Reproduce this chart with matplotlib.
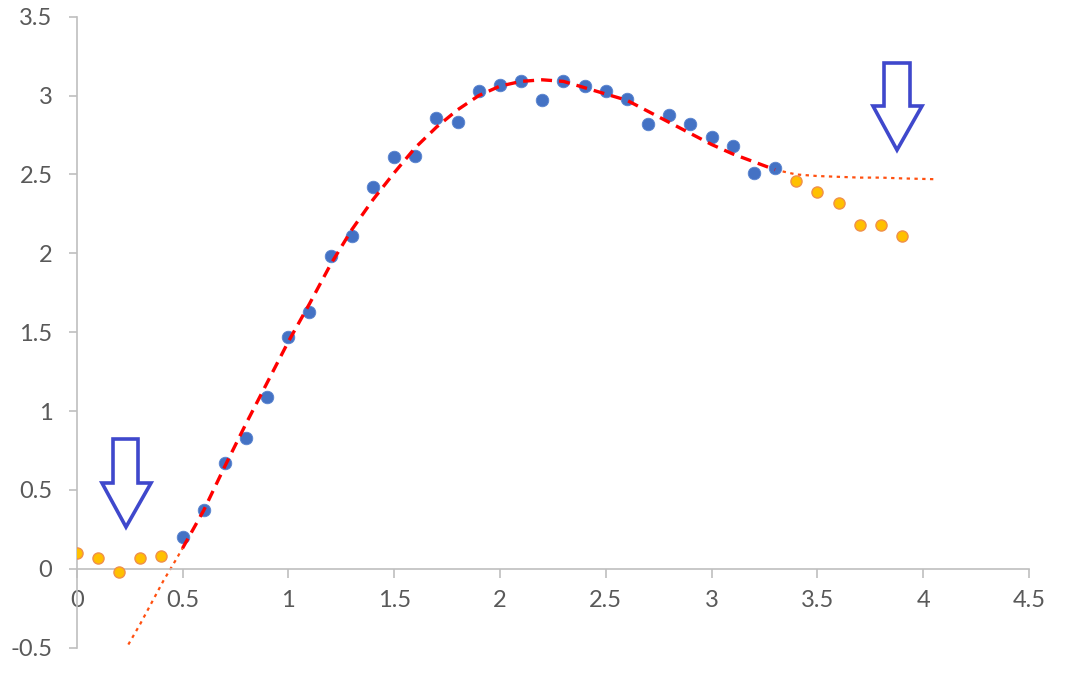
import matplotlib
matplotlib.use('Agg')
import matplotlib.pyplot as plt
from matplotlib.patches import Polygon

# measured points (blue) and the points left out of the fit (orange)
x_fit = [0.5, 0.6, 0.7, 0.8, 0.9, 1.0, 1.1, 1.2, 1.3, 1.4, 1.5, 1.6, 1.7, 1.8, 1.9,
         2.0, 2.1, 2.2, 2.3, 2.4, 2.5, 2.6, 2.7, 2.8, 2.9, 3.0, 3.1, 3.2, 3.3]
y_fit = [0.20, 0.37, 0.67, 0.83, 1.09, 1.47, 1.63, 1.98, 2.11, 2.42, 2.61, 2.62, 2.86, 2.83, 3.03,
         3.07, 3.09, 2.97, 3.09, 3.06, 3.03, 2.98, 2.82, 2.88, 2.82, 2.74, 2.68, 2.51, 2.54]

x_out = [0.0, 0.1, 0.2, 0.3, 0.4, 3.4, 3.5, 3.6, 3.7, 3.8, 3.9]
y_out = [0.10, 0.07, -0.02, 0.07, 0.08, 2.46, 2.39, 2.32, 2.18, 2.18, 2.11]

# trendline
x_trend = [0.5, 0.6, 0.7, 0.8, 0.9, 1.0, 1.1, 1.2, 1.3, 1.4, 1.5, 1.6, 1.7, 1.8, 1.9,
           2.0, 2.1, 2.2, 2.3, 2.4, 2.5, 2.6, 2.7, 2.8, 2.9, 3.0, 3.1, 3.2, 3.3]
y_trend = [0.13, 0.37, 0.65, 0.92, 1.18, 1.44, 1.68, 1.93, 2.15, 2.34, 2.51, 2.67, 2.80, 2.91, 3.00,
           3.06, 3.09, 3.10, 3.09, 3.05, 3.01, 2.97, 2.90, 2.83, 2.76, 2.69, 2.63, 2.58, 2.53]

# trendline forecast backward / forward
x_back = [0.244, 0.3, 0.36, 0.41, 0.47, 0.5]
y_back = [-0.48, -0.35, -0.20, -0.075, 0.06, 0.13]
x_fwd = [3.3, 3.4, 3.5, 3.6, 3.7, 3.8, 3.9, 4.05]
y_fwd = [2.53, 2.50, 2.49, 2.485, 2.48, 2.48, 2.475, 2.47]

x_ticks = [0, 0.5, 1, 1.5, 2, 2.5, 3, 3.5, 4, 4.5]
y_ticks = [-0.5, 0, 0.5, 1, 1.5, 2, 2.5, 3, 3.5]

W, H = 1088, 683
AXIS_COLOR = '#BFBFBF'
TEXT_COLOR = '#595959'

plt.rcParams['font.family'] = ['Lato', 'DejaVu Sans']

fig = plt.figure(figsize=(W / 100, H / 100), dpi=100)
ax = fig.add_axes([76.7 / W, 1 - 647.7 / H, (1029 - 76.7) / W, (647.7 - 16.7) / H])

ax.plot(x_back, y_back, color='#FF5010', linewidth=1.6, linestyle=(0, (1.5, 2)), zorder=2)
ax.plot(x_fwd, y_fwd, color='#FF5010', linewidth=1.6, linestyle=(0, (1.5, 2)), zorder=2)
ax.plot(x_trend, y_trend, color='#FF0000', linewidth=2.4, linestyle=(0, (3.3, 2.1)), zorder=4)

ax.scatter(x_fit, y_fit, s=82, color='#4472C4', edgecolors='#5B85D0', linewidths=0.6, zorder=3)
ax.scatter(x_out, y_out, s=64, color='#FFC000', edgecolors='#F0904A', linewidths=1.0, zorder=3)

ax.set_xlim(0, 4.5)
ax.set_ylim(-0.5, 3.5)
ax.set_xticks(x_ticks)
ax.set_yticks(y_ticks)
ax.set_xticklabels([f'{v:g}' for v in x_ticks])
ax.set_yticklabels([f'{v:g}' for v in y_ticks])

for side in ['top', 'right']:
    ax.spines[side].set_visible(False)
ax.spines['bottom'].set_position(('data', 0))
for side in ['left', 'bottom']:
    ax.spines[side].set_color(AXIS_COLOR)
    ax.spines[side].set_linewidth(1.2)

ax.tick_params(axis='both', direction='out', color=AXIS_COLOR, width=1.2,
               labelcolor=TEXT_COLOR, labelsize=17)
ax.tick_params(axis='x', length=6.5, pad=9)
ax.tick_params(axis='y', length=5.5, pad=12)
ax.patch.set_alpha(0)


def block_arrow(x0, x1, top, shoulder, hx0, hx1, tip_x, tip_y):
    """Down arrow outline in pixel coords of the picture."""
    pts = [(x0, top), (x1, top), (x1, shoulder), (hx1, shoulder), (tip_x, tip_y),
           (hx0, shoulder), (x0, shoulder)]
    pts = [(px / W, 1 - py / H) for px, py in pts]
    fig.patches.append(Polygon(pts, closed=True, transform=fig.transFigure,
                               facecolor='white', edgecolor='#3F48CC', linewidth=2.6,
                               joinstyle='miter', zorder=10))


block_arrow(113, 138, 439, 483, 102, 151, 126, 527)
block_arrow(884, 910, 63, 106, 873, 922, 897, 150)

plt.savefig('out.png', dpi=100, facecolor='white')
